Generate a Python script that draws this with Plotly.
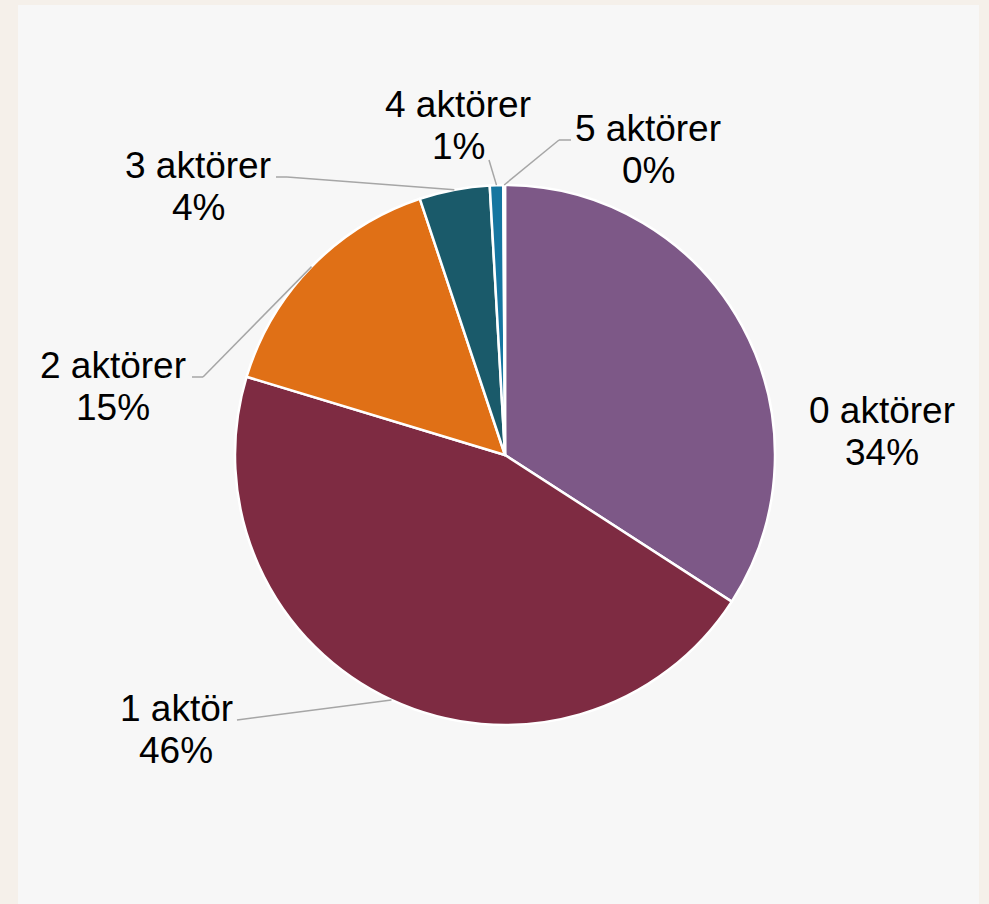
import math
import plotly.graph_objects as go

# ---- data ----
categories = ["0 aktörer", "1 aktör", "2 aktörer", "3 aktörer", "4 aktörer", "5 aktörer"]
shares = [34.1, 45.5, 15.2, 4.2, 0.8, 0.1]
colors = ["#7d5887", "#7e2b42", "#e07016", "#1a5a6a", "#1676a0", "#8fa6ad"]

# ---- layout constants (pixels) ----
W, H = 989, 904
CX, CY, R = 505, 455, 270
FS = 37
LINE_GAP = 42
# label centre x and first-line baseline y
label_pos = [(882, 424), (176, 722), (113, 379), (198, 179), (458, 118), (648, 142)]
# leader line points on the label side (None = no leader line)
leader_pts = [
    None,
    [(237, 720)],
    [(192, 377), (203, 377)],
    [(276, 177), (287, 177)],
    [(489, 160)],
    [(571, 140), (559, 140)],
]


def px(x):
    return x / W


def py(y):
    return 1 - y / H


total = sum(shares)
pct_text = [f"{round(v / total * 100):.0f}%" for v in shares]

fig = go.Figure(
    go.Pie(
        labels=categories,
        values=shares,
        sort=False,
        direction="clockwise",
        rotation=0,
        marker=dict(colors=colors, line=dict(color="white", width=2.5)),
        textinfo="none",
        hoverinfo="skip",
        showlegend=False,
        domain=dict(x=[px(CX - R), px(CX + R)], y=[py(CY + R), py(CY - R)]),
    )
)

shapes = [
    dict(type="rect", xref="paper", yref="paper", x0=px(18), x1=px(979), y0=py(904), y1=py(5),
         fillcolor="#f7f7f7", line=dict(width=0), layer="below")
]
annotations = []
cum = 0.0
for i, v in enumerate(shares):
    mid = (cum + v / 2) / total * 2 * math.pi
    cum += v
    ex = CX + R * math.sin(mid)
    ey = CY - R * math.cos(mid)
    pts = leader_pts[i]
    if pts:
        chain = pts + [(ex, ey)]
        for (x0, y0), (x1, y1) in zip(chain[:-1], chain[1:]):
            shapes.append(dict(type="line", xref="paper", yref="paper",
                               x0=px(x0), y0=py(y0), x1=px(x1), y1=py(y1),
                               line=dict(color="#a6a6a6", width=1.5)))
    lx, ly = label_pos[i]
    for j, txt in enumerate([categories[i], pct_text[i]]):
        base = ly + j * LINE_GAP
        annotations.append(dict(
            xref="paper", yref="paper", x=px(lx), y=py(base - 0.36 * FS),
            text=txt, showarrow=False, xanchor="center", yanchor="middle",
            font=dict(family="Liberation Sans, Arial, sans-serif", size=FS, color="#000000"),
        ))

fig.update_layout(
    width=W, height=H, autosize=False,
    margin=dict(l=0, r=0, t=0, b=0, pad=0),
    paper_bgcolor="#f5f0ea",
    plot_bgcolor="#f7f7f7",
    shapes=shapes,
    annotations=annotations,
)

fig.write_html(
    "out.html",
    config={"displayModeBar": False},
    post_script="document.body.style.margin='0';document.body.style.background='#f5f0ea';",
)
